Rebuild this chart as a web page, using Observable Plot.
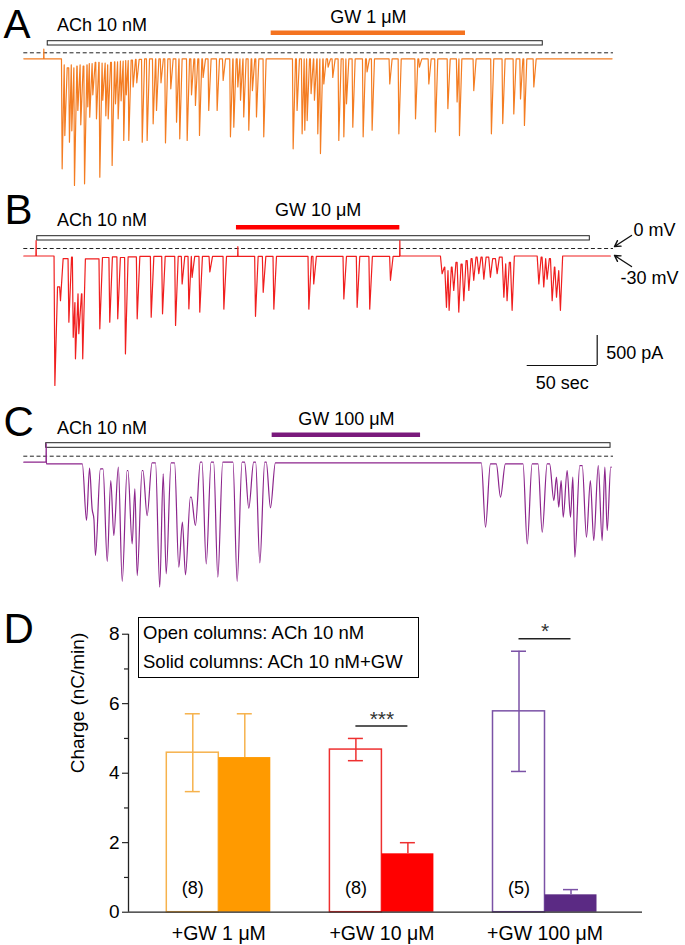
<!DOCTYPE html>
<html>
<head>
<meta charset="utf-8">
<script src="https://cdn.jsdelivr.net/npm/d3@7"></script>
<script src="https://cdn.jsdelivr.net/npm/@observablehq/plot@0.6"></script>
<style>
  body { margin: 0; background: #fff; font-family: "Liberation Sans", Arial, sans-serif; }
  #fig { position: relative; width: 685px; height: 945px; overflow: hidden; background: #fff; }
  .panel { position: absolute; left: 0; }
  #legend { position: absolute; left: 138px; top: 617px; width: 281px; height: 61px; box-sizing: border-box;
            border: 1px solid #000; font-size: 18.5px; line-height: 28.5px; padding: 1px 0 0 4px; color: #000; white-space: nowrap; }
</style>
</head>
<body>
<div id="fig"></div>
<script>
// ---------------- DATA ----------------
// Trace events: [time (s), peak current (pA), level reached afterwards (pA)]
const eventsA = [
  [14.3, 60],
  [27.4,-1934,-200],[29.3,-1380,-250],[32.6,-1490,-200],[34.3,-1300,-250],[36.2,-2212,-220],[38.6,-960,-200],[40.7,-1200,-220],[43.4,-2184,-200],[45.7,-900,-180],
  [47.1,-1073,-180],[49.3,-700,-160],[51.9,-1100,-160],[54.3,-2073,-170],[56.4,-790,-170],[58.6,-1050,-200],[60.3,-1100,-160],[63.1,-1878,-150],[65.5,-850,-150],
  [67.4,-1100,-140],[69.5,-800,-140],[71.4,-1462,-130],[73.2,-700,-130],[75.0,-1462,-120],[78.1,-570,-110],[80.7,-500,-110],[84.6,-1490],[88.1,-1462],
  [92.4,-1184],[94.8,-962],[98.0,-500],[101.2,-1501],[105.0,-600],[109.1,-1156],[111.4,-1434],[116.7,-1462],[119.8,-700],
  [122.6,-878],[125.5,-1378],[128.1,-410],[132.1,-960],[138.1,-960],[142.4,-460],[147.6,-1400],[150.0,-1240],[152.9,-570],
  [154.8,-790],[157.1,-1070],[160.7,-1290],[163.3,-630],[166.2,-1070],[171.4,-1400],
  [192.4,-1600],[195.2,-960],[198.8,-1350],[200.7,-1290],[202.4,-1130],[205.2,-680],[207.6,-790],[210.0,-1350],[211.9,-1680],
  [214.3,-520],[217.4,-240],[220.7,-410],[225.0,-1460],[228.6,-1400],[230.5,-850],[235.0,-1240],[242.4,-1400],[245.2,-320],
  [248.8,-1290],[261.4,-520],[267.9,-1350],[279.8,-1100],[282.6,-240],[289.3,-520],[294.0,-1320],[302.9,-930],[309.5,-820],
  [311.2,-1380],[321.4,-630],[334.0,-1350],[342.1,-1180],[350.0,-1020],[354.8,-770],[357.6,-1210],[364.3,-570]
];
const eventsB = [
  [8.8,133,-125],
  [22.2,-2283,-640],[26.2,-870,-170],[32.2,-1228,-145],[35.3,-1480,-900],[36.9,-1839,-756],[39.3,-1420,-756],[42.1,-1839,-172],
  [54.3,-1339,-150],[61.4,-1228,-140],[67.1,-1172,-150],[72.6,-1756,-140],[81.0,-1172,-130],[91.0,-1144,-130],[99.1,-1089,-130],
  [108.4,-1283,-130],[113.1,-590,-130],[117.9,-1006,-130],[120.2,-480,-130],[125.7,-1060,-130],[132.9,-390,-130],[142.9,-1010,-130],
  [152.9,30,-130],[165.5,-1130,-130],[171.0,-730,-130],[178.6,-1010,-130],[203.6,-1010,-130],[207.1,-590,-130],[228.6,-840,-130],
  [238.1,-980,-130],[247.1,-1010,-130],[261.9,-530,-130],[268.6,133,-125],
  [298.8,-420,-310],[301.9,-980,-370],[303.8,-1030,-310],[307.1,-700,-230],[310.7,-1060,-260],[314.3,-870,-200],[317.9,-700,-170],
  [321.4,-530,-145],[325.0,-420,-145],[328.6,-510,-145],[333.3,-480,-170],[338.1,-420,-145],[342.9,-810,-255],[345.2,-870,-230],
  [348.8,-1030,-125],[367.9,-590,-145],[371.4,-640,-170],[373.8,-510,-170],[377.4,-870,-310],[380.5,-810,-370],[383.3,-1030,-125]
];
const eventsC = [
  [16.0,217,-128],
  [44.8,-1072,-200],[48.8,-878,-1050],[51.2,-1655,-210],[59.6,-1755,-405],[64.3,-1322,-183],[70.3,-2088,-239],[77.4,-1461,-544],
  [81.0,-1989,-239],[88.1,-989,-110],[97.1,-2183,-294],[101.7,-1961,-110],[110.7,-1850,-1100],[115.5,-1978,-683],[122.6,-1155,-100],
  [130.3,-1794,-100],[138.6,-2016,-100],[152.4,-2088,-100],[160.7,-866,-100],[168.6,-1778,-100],[176.2,-861,-110],
  [329.8,-1183,-128],[340.5,-683,-128],[359.6,-1461,-128],[370.3,-1267,-128],[378.6,-739,-350],[382.1,-850,-406],[385.3,-1017,-239],
  [390.5,-1017,-350],[393.6,-1683,-156],[401.9,-1350,-406],[407.1,-1406,-156],[413.1,-1406,-183],[416.7,-1239,-183]
];
const traceEnd = [420.2, 419.0, 419.6];      // s
const baseline = [-100, -125, -100];         // holding current, pA
const achOn = [17.1, 9.6, 16.0];             // s
const achOff = [370.7, 404.3, 419.1];
const gwOn = [176.7, 151.9, 177.4];
const gwOff = [315.5, 268.6, 283.4];
const achLabel = "ACh 10 nM";
const gwLabels = ["GW 1 μM", "GW 10 μM", "GW 100 μM"];
const panelLetters = ["A", "B", "C", "D"];
const holdingLabels = ["0 mV", "-30 mV"];
const scaleBar = {pA: 500, sec: 50};

// Panel D
const groups = ["+GW 1 μM", "+GW 10 μM", "+GW 100 μM"];
const openMean = [4.59, 4.68, 5.78];
const openErr = [1.12, 0.32, 1.73];
const solidMean = [4.45, 1.68, 0.50];
const solidErr = [1.26, 0.32, 0.15];
const nCells = [8, 8, 5];
const sigMarks = ["", "***", "*"];
const yTicks = [0, 2, 4, 6, 8];
const yMinor = [1, 3, 5, 7];
const legendLines = ["Open columns: ACh 10 nM", "Solid columns: ACh 10 nM+GW"];

// ---------------- STYLE / LAYOUT ----------------
const FONT = "'Liberation Sans', Arial, Helvetica, sans-serif";
const traceColor = ["#F47D22", "#F01E1E", "#8C258C"];
const gwColor = ["#F47320", "#FF0000", "#7A1A7C"];
const openColor = ["#F6B24C", "#EE3030", "#7B52A6"];
const solidColor = ["#FF9A00", "#FF0000", "#5B2A84"];

const X0 = 23.3, PX_PER_S = 1.4, PX_PER_PA = 0.06;
const toT = px => (px - X0) / PX_PER_S;

// spike shape widths (s): [rise, decay]; "slow" applies from slowFrom onward
const panelCfg = [
  {top: 0,   height: 190, dashY: 52.3, box: [40.7, 45.0], gwY: 32.3, achY: 25, gwLabelY: 17, letterBase: 37, letterX: 3, letterSize: 40.5,
   fast: [0.5, 1.7], slow: [0.5, 1.7], slowFrom: Infinity, curve: "linear"},
  {top: 190, height: 210, dashY: 58.0, box: [45.7, 50.0], gwY: 36.7, achY: 30, gwLabelY: 20, letterBase: 33, letterX: 4, letterSize: 42,
   fast: [0.6, 1.9], slow: [1.2, 1.6], slowFrom: 290, curve: "linear"},
  {top: 400, height: 200, dashY: 55.7, box: [42.7, 47.3], gwY: 34.3, achY: 28, gwLabelY: 19, letterBase: 35.5, letterX: 3, letterSize: 42,
   fast: [3.0, 3.5], slow: [3.0, 3.5], slowFrom: Infinity, curve: "monotone-x"}
];
const allEvents = [eventsA, eventsB, eventsC];

function buildTrace(events, base, tEnd, cfg) {
  const shape = (ev) => ev[1] > 0 ? [0.15, 0.15] : (ev[0] >= cfg.slowFrom ? cfg.slow : cfg.fast);
  const pts = [{t: 0, v: base}];
  let level = base;
  events.forEach((ev, i) => {
    const [t, peak] = ev;
    const rec = ev.length > 2 ? ev[2] : base;
    const [r0, d0] = shape(ev);
    const last = pts[pts.length - 1].t;
    if (t - r0 > last) pts.push({t: t - r0, v: level});
    pts.push({t, v: peak});
    const nextEv = events[i + 1];
    const next = nextEv ? nextEv[0] : tEnd;
    const nr = nextEv ? shape(nextEv)[0] : 0.5;
    const gap = next - t;
    pts.push({t: gap > d0 + nr ? t + d0 : t + gap * d0 / (d0 + nr), v: rec});
    level = rec;
  });
  pts.push({t: tEnd, v: level});
  return pts;
}

const fig = document.getElementById("fig");

panelCfg.forEach((cfg, k) => {
  const toPA = py => -(py - cfg.dashY) / PX_PER_PA;
  const pts = buildTrace(allEvents[k], baseline[k], traceEnd[k], cfg);
  const marks = [
    Plot.ruleY([0], {x1: 0, x2: toT(613), stroke: "#222", strokeWidth: 1, strokeDasharray: "4,2.6"}),
    Plot.rect([{a: achOn[k], b: achOff[k]}], {x1: "a", x2: "b", y1: toPA(cfg.box[0]), y2: toPA(cfg.box[1]),
      fill: "white", stroke: "#222", strokeWidth: 1}),
    Plot.line(pts, {x: "t", y: "v", stroke: traceColor[k], strokeWidth: 1.2, curve: cfg.curve}),
    Plot.ruleY([toPA(cfg.gwY)], {x1: gwOn[k], x2: gwOff[k], stroke: gwColor[k], strokeWidth: 4.5}),
    Plot.text([achLabel], {x: toT(56.5), y: toPA(cfg.achY), textAnchor: "start", fontSize: 18, text: d => d}),
    Plot.text([gwLabels[k]], {x: (gwOn[k] + gwOff[k]) / 2, y: toPA(cfg.gwLabelY), fontSize: 18, text: d => d}),
    Plot.text([panelLetters[k]], {x: toT(cfg.letterX), y: toPA(cfg.letterBase), textAnchor: "start", lineAnchor: "bottom",
      fontSize: cfg.letterSize, text: d => d})
  ];
  if (k === 1) {
    const barT = toT(596.7), barPA = toPA(365 - 190);
    marks.push(
      Plot.ruleX([barT], {y1: barPA, y2: barPA + scaleBar.pA, stroke: "#111", strokeWidth: 1.2}),
      Plot.ruleY([barPA], {x1: barT - scaleBar.sec, x2: barT, stroke: "#111", strokeWidth: 1.2}),
      Plot.text([`${scaleBar.pA} pA`], {x: barT + 6.5, y: barPA + scaleBar.pA * 0.4, textAnchor: "start", fontSize: 18, text: d => d}),
      Plot.text([`${scaleBar.sec} sec`], {x: barT - scaleBar.sec / 2, y: barPA, dy: 18, fontSize: 18, text: d => d}),
      Plot.text([holdingLabels[0]], {x: toT(633), y: toPA(40), textAnchor: "start", fontSize: 18, text: d => d}),
      Plot.text([holdingLabels[1]], {x: toT(620), y: toPA(88), textAnchor: "start", fontSize: 18, text: d => d}),
      Plot.arrow([{x1: toT(631), y1: toPA(45), x2: toT(614), y2: toPA(56)},
                  {x1: toT(631), y1: toPA(76), x2: toT(614), y2: toPA(65)}],
        {x1: "x1", y1: "y1", x2: "x2", y2: "y2", stroke: "#111", strokeWidth: 1.4, headLength: 7})
    );
  }
  const svg = Plot.plot({
    width: 685, height: cfg.height, margin: 0,
    style: {fontFamily: FONT, background: "transparent", overflow: "visible"},
    x: {domain: [0, 420], range: [X0, X0 + 420 * PX_PER_S], axis: null},
    y: {domain: [0, -1000], range: [cfg.dashY, cfg.dashY + 1000 * PX_PER_PA], axis: null},
    marks
  });
  const div = document.createElement("div");
  div.className = "panel";
  div.style.top = cfg.top + "px";
  div.appendChild(svg);
  fig.appendChild(div);
});

// ---------------- PANEL D ----------------
{
  const STEP = 163.1, C0 = 218.3, LEFT = 128, RIGHT = 642, TOP = 33.7;
  const HB = 52 / STEP, CAP = 7.5 / STEP;
  const xmin = (LEFT - C0) / STEP, xmax = (RIGHT - C0) / STEP;
  const idx = groups.map((_, i) => i);
  const sigIdx = idx.filter(i => sigMarks[i]);
  const sigY = i => openMean[i] + openErr[i] + 0.36;
  const oc = i => i - HB / 2, sc = i => i + HB / 2;
  const svg = Plot.plot({
    width: 685, height: 345, marginLeft: LEFT, marginRight: 685 - RIGHT, marginTop: TOP, marginBottom: 33.3,
    style: {fontFamily: FONT, background: "transparent", overflow: "visible"},
    color: {type: "identity"},
    x: {domain: [xmin, xmax], axis: null},
    y: {domain: [0, 8], axis: null},
    marks: [
      Plot.rect(idx, {x1: i => i - HB, x2: i => i, y1: 0, y2: i => openMean[i], fill: "white", stroke: i => openColor[i], strokeWidth: 1.5}),
      Plot.rect(idx, {x1: i => i, x2: i => i + HB, y1: 0, y2: i => solidMean[i], fill: i => solidColor[i]}),
      // error bars (open: both directions, solid: upward)
      Plot.ruleX(idx, {x: oc, y1: i => openMean[i] - openErr[i], y2: i => openMean[i] + openErr[i], stroke: i => openColor[i], strokeWidth: 1.5}),
      Plot.ruleY(idx, {y: i => openMean[i] + openErr[i], x1: i => oc(i) - CAP, x2: i => oc(i) + CAP, stroke: i => openColor[i], strokeWidth: 1.5}),
      Plot.ruleY(idx, {y: i => openMean[i] - openErr[i], x1: i => oc(i) - CAP, x2: i => oc(i) + CAP, stroke: i => openColor[i], strokeWidth: 1.5}),
      Plot.ruleX(idx, {x: sc, y1: i => solidMean[i], y2: i => solidMean[i] + solidErr[i], stroke: i => openColor[i], strokeWidth: 1.5}),
      Plot.ruleY(idx, {y: i => solidMean[i] + solidErr[i], x1: i => sc(i) - CAP, x2: i => sc(i) + CAP, stroke: i => openColor[i], strokeWidth: 1.5}),
      // significance
      Plot.ruleY(sigIdx, {y: sigY, x1: i => i - HB / 2, x2: i => i + HB / 2, stroke: "#222", strokeWidth: 1.5}),
      Plot.text(sigIdx, {x: i => i, y: sigY, dy: -7, text: i => sigMarks[i], fontSize: 21, fill: "#333"}),
      // n
      Plot.text(idx, {x: oc, y: 0, dy: -23.5, text: i => `(${nCells[i]})`, fontSize: 18}),
      // axes
      Plot.ruleY([0], {stroke: "#222", strokeWidth: 1.3}),
      Plot.ruleX([xmin], {y1: 0, y2: 8, stroke: "#222", strokeWidth: 1.3}),
      Plot.axisY({ticks: yTicks, tickSize: 6, tickPadding: 3, fontSize: 19, label: null, tickFormat: d => d}),
      Plot.ruleY(yMinor, {x1: xmin - 4 / STEP, x2: xmin, stroke: "#222", strokeWidth: 1.2}),
      Plot.text(groups, {x: (d, i) => i, y: 0, dy: 21.5, text: d => d, fontSize: 19.5}),
      Plot.text(["Charge (nC/min)"], {frameAnchor: "left", dx: -51, rotate: -90, fontSize: 19, text: d => d}),
      Plot.text([panelLetters[3]], {frameAnchor: "top-left", dx: 3 - LEFT, dy: 42 - TOP, textAnchor: "start", lineAnchor: "bottom", fontSize: 42, text: d => d})
    ]
  });
  const div = document.createElement("div");
  div.className = "panel";
  div.style.top = "600px";
  div.appendChild(svg);
  fig.appendChild(div);

  const legend = document.createElement("div");
  legend.id = "legend";
  legend.innerHTML = legendLines.map(s => `<div>${s}</div>`).join("");
  fig.appendChild(legend);
}
</script>
</body>
</html>
